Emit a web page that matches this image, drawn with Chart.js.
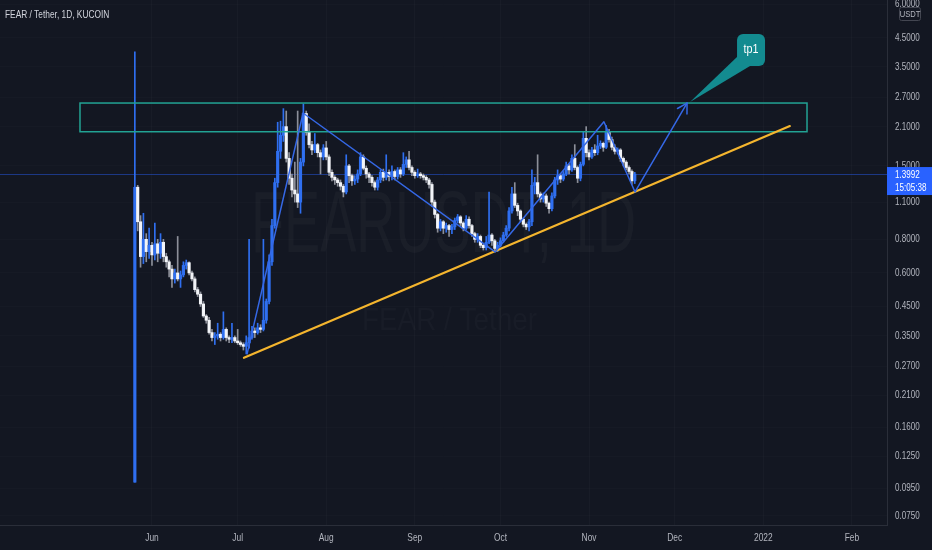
<!DOCTYPE html>
<html><head><meta charset="utf-8">
<script src="https://cdn.jsdelivr.net/npm/chart.js@4.4.1/dist/chart.umd.min.js"></script>
<style>
html,body{margin:0;padding:0;background:#131722;overflow:hidden;}
#wrap{position:relative;width:932px;height:550px;}
#title{position:absolute;left:5px;top:8px;color:#d1d4dc;font:11px 'Liberation Sans',Arial,sans-serif;white-space:nowrap;transform:scaleX(0.76);transform-origin:0 0;}
</style></head><body>
<div id="wrap"><canvas id="c"></canvas><div id="title">FEAR / Tether, 1D, KUCOIN</div></div>
<script>
// ---- data (daily candles, day 0 = 2021-06-01) ----
const START_DAY = -6;
const O = [0.100,1.25,0.93,0.69,0.80,0.72,0.76,0.70,0.77,0.71,
0.78,0.69,0.66,0.62,0.57,0.60,0.57,0.59,0.64,0.655,
0.60,0.57,0.52,0.50,0.46,0.415,0.40,0.36,0.345,0.35,
0.355,0.345,0.37,0.345,0.34,0.345,0.335,0.33,0.325,0.32,
0.33,0.345,0.365,0.36,0.375,0.37,0.40,0.47,0.66,0.90,
1.30,1.70,1.95,2.10,1.60,1.35,1.22,1.18,1.10,1.55,
2.35,2.00,1.80,1.72,1.80,1.68,1.62,1.75,1.62,1.42,
1.36,1.33,1.30,1.26,1.20,1.50,1.38,1.32,1.34,1.40,
1.62,1.47,1.40,1.36,1.30,1.25,1.33,1.42,1.36,1.42,
1.37,1.43,1.37,1.45,1.40,1.52,1.58,1.48,1.42,1.38,
1.40,1.38,1.36,1.33,1.28,1.10,0.99,0.88,0.93,0.88,
0.90,0.87,0.89,0.94,0.97,0.92,0.88,0.95,0.90,0.84,
0.80,0.82,0.76,0.745,0.78,0.83,0.79,0.74,0.76,0.79,
0.83,0.88,1.02,1.18,1.07,1.02,0.95,0.91,0.89,0.93,
1.27,1.30,1.18,1.13,1.16,1.09,1.04,1.16,1.33,1.38,
1.34,1.40,1.50,1.45,1.60,1.48,1.35,1.52,1.90,1.68,
1.62,1.72,1.68,1.78,1.82,1.76,2.00,1.88,1.76,1.70,
1.72,1.60,1.55,1.48,1.43,1.32];
const H = [3.98,1.27,0.98,1.00,0.84,0.88,0.78,0.92,0.80,0.84,
0.80,0.71,0.67,0.64,0.62,0.82,0.61,0.66,0.67,0.66,
0.61,0.58,0.53,0.51,0.47,0.42,0.41,0.37,0.36,0.39,
0.36,0.43,0.375,0.35,0.39,0.35,0.37,0.335,0.33,0.35,
0.80,0.38,0.375,0.39,0.385,0.80,0.48,0.70,0.95,1.35,
2.18,2.20,2.45,2.40,1.68,1.40,1.55,2.40,1.60,2.55,
2.40,2.15,1.85,1.98,1.82,1.72,1.80,1.85,1.65,1.45,
1.38,1.35,1.33,1.28,1.65,1.52,1.40,1.38,1.45,1.68,
1.65,1.50,1.42,1.38,1.32,1.36,1.45,1.46,1.65,1.45,
1.50,1.45,1.48,1.48,1.68,1.62,1.70,1.50,1.44,1.46,
1.42,1.40,1.38,1.35,1.30,1.12,1.00,0.95,0.94,0.92,
0.91,0.91,0.96,0.99,0.98,0.93,0.98,0.97,0.91,0.85,
0.84,0.83,0.77,0.82,1.20,0.84,0.80,0.78,0.81,0.85,
0.90,1.05,1.25,1.30,1.09,1.03,0.96,0.92,0.95,1.45,
1.36,1.65,1.20,1.19,1.18,1.10,1.19,1.36,1.45,1.40,
1.43,1.55,1.52,1.65,1.80,1.50,1.55,2.00,2.10,1.72,
1.76,1.80,1.95,1.86,1.84,2.12,2.05,1.92,1.80,1.75,
1.74,1.62,1.57,1.50,1.45,1.42];
const L = [0.100,0.86,0.63,0.65,0.66,0.68,0.64,0.67,0.66,0.68,
0.66,0.63,0.58,0.53,0.55,0.56,0.53,0.58,0.62,0.59,
0.56,0.51,0.49,0.45,0.41,0.39,0.355,0.335,0.325,0.34,
0.335,0.34,0.335,0.33,0.33,0.33,0.325,0.32,0.31,0.30,
0.315,0.34,0.345,0.355,0.36,0.365,0.39,0.46,0.64,0.88,
1.25,1.60,1.85,1.55,1.28,1.15,1.10,1.05,1.00,1.50,
1.95,1.75,1.65,1.68,1.62,1.40,1.58,1.58,1.38,1.32,
1.28,1.26,1.22,1.15,1.18,1.30,1.27,1.28,1.30,1.38,
1.45,1.35,1.30,1.26,1.22,1.22,1.30,1.32,1.33,1.32,
1.33,1.33,1.34,1.36,1.38,1.48,1.45,1.38,1.35,1.36,
1.35,1.33,1.30,1.24,1.06,0.96,0.85,0.86,0.84,0.85,
0.82,0.84,0.87,0.92,0.90,0.86,0.87,0.88,0.82,0.78,
0.78,0.745,0.73,0.73,0.77,0.76,0.72,0.72,0.75,0.78,
0.82,0.86,1.00,1.05,0.98,0.93,0.89,0.87,0.86,0.90,
1.18,1.15,1.10,1.10,1.06,1.00,1.02,1.14,1.28,1.30,
1.32,1.38,1.40,1.43,1.45,1.30,1.32,1.50,1.62,1.58,
1.60,1.64,1.65,1.74,1.70,1.74,1.84,1.72,1.66,1.66,
1.56,1.50,1.45,1.40,1.28,1.29];
const C = [1.25,0.93,0.69,0.80,0.72,0.76,0.70,0.77,0.71,0.78,
0.69,0.66,0.62,0.57,0.60,0.57,0.59,0.64,0.655,0.60,
0.57,0.52,0.50,0.46,0.415,0.40,0.36,0.345,0.35,0.355,
0.345,0.37,0.345,0.34,0.345,0.335,0.33,0.325,0.32,0.33,
0.345,0.365,0.36,0.375,0.37,0.40,0.47,0.66,0.90,1.30,
1.70,1.95,2.10,1.60,1.35,1.22,1.18,1.10,1.55,2.35,
2.00,1.80,1.72,1.80,1.68,1.62,1.75,1.62,1.42,1.36,
1.33,1.30,1.26,1.20,1.50,1.38,1.32,1.34,1.40,1.62,
1.47,1.40,1.36,1.30,1.25,1.33,1.42,1.36,1.42,1.37,
1.43,1.37,1.45,1.40,1.52,1.58,1.48,1.42,1.38,1.40,
1.38,1.36,1.33,1.28,1.10,0.99,0.88,0.93,0.88,0.90,
0.87,0.89,0.94,0.97,0.92,0.88,0.95,0.90,0.84,0.80,
0.82,0.76,0.745,0.78,0.83,0.79,0.74,0.76,0.79,0.83,
0.88,1.02,1.18,1.07,1.02,0.95,0.91,0.89,0.93,1.27,
1.30,1.18,1.13,1.16,1.09,1.04,1.16,1.33,1.38,1.34,
1.40,1.50,1.45,1.60,1.48,1.35,1.52,1.90,1.68,1.62,
1.72,1.68,1.78,1.82,1.76,2.00,1.88,1.76,1.70,1.72,
1.60,1.55,1.48,1.43,1.32,1.3992];

const TICK_DAYS = [0,30,61,92,122,153,183,214,245];
const TICK_LABELS = ['Jun','Jul','Aug','Sep','Oct','Nov','Dec','2022','Feb'];
const PRICE_TICKS = [0.075,0.095,0.125,0.16,0.21,0.27,0.35,0.45,0.6,0.8,1.1,1.5,2.1,2.7,3.5,4.5,6];
const X_MIN = -53.2, X_MAX = 257.3, Y_MIN = 0.0693, Y_MAX = 6.21;

// drawings (day, price)
const ZONE_DAYS = [-25.2, 229.3], ZONE_PRICES = [2.57, 2.01];
const TREND_DAYS = [32.2, 223.3], TREND_PRICES = [0.290, 2.11];
const PATH_DAYS = [33.3, 52.9, 120.1, 158.2, 169.1, 187.3];
const PATH_PRICES = [0.300, 2.36, 0.718, 2.19, 1.20, 2.57];
const LAST_PRICE = 1.3992, COUNTDOWN = '15:05:38', CURRENCY = 'USDT', CALLOUT = 'tp1';
const WM1 = 'FEARUSDT, 1D', WM2 = 'FEAR / Tether';

const FONT = "'Liberation Sans',Arial,sans-serif";
const SX = 0.8; // horizontal text condensation
const BLUE = '#2f6ff0', WHITE = '#f2f4f8', WICK_DN = '#8c8f99';
const up = O.map((o,i)=>C[i] >= o);

function sText(ctx, txt, x, y, align, sx){
  ctx.save(); ctx.translate(x,y); ctx.scale(sx,1); ctx.textAlign=align; ctx.fillText(txt,0,0); ctx.restore();
}

const drawings = {
  id:'drawings',
  beforeDatasetsDraw(chart){
    const {ctx, chartArea:a, scales:{x,y}} = chart;
    ctx.save();
    ctx.beginPath(); ctx.rect(a.left,a.top,a.width,a.height); ctx.clip();
    ctx.textBaseline='alphabetic';
    const cx=(a.left+a.right)/2;
    ctx.fillStyle='rgba(255,255,255,0.03)';
    ctx.font=`88px ${FONT}`;
    let w=ctx.measureText(WM1).width;
    sText(ctx, WM1, cx, 252, 'center', 385/w);
    ctx.fillStyle='rgba(255,255,255,0.022)';
    ctx.font=`32px ${FONT}`;
    w=ctx.measureText(WM2).width;
    sText(ctx, WM2, cx+6, 330, 'center', 175/w);
    const py=Math.round(y.getPixelForValue(LAST_PRICE))+0.5;
    ctx.strokeStyle='rgba(41,98,255,0.45)'; ctx.lineWidth=1;
    ctx.beginPath(); ctx.moveTo(a.left,py); ctx.lineTo(a.right,py); ctx.stroke();
    ctx.restore();
  },
  afterDatasetsDraw(chart){
    const {ctx, chartArea:a, scales:{x,y}} = chart;
    ctx.save();
    ctx.beginPath(); ctx.rect(a.left,a.top,a.width,a.height); ctx.clip();
    const zx0=x.getPixelForValue(ZONE_DAYS[0]), zx1=x.getPixelForValue(ZONE_DAYS[1]);
    const zy0=y.getPixelForValue(ZONE_PRICES[0]), zy1=y.getPixelForValue(ZONE_PRICES[1]);
    ctx.strokeStyle='#22a394'; ctx.lineWidth=1.5;
    ctx.strokeRect(zx0,zy0,zx1-zx0,zy1-zy0);
    ctx.strokeStyle='#f4b52e'; ctx.lineWidth=2.2; ctx.lineCap='round';
    ctx.beginPath();
    ctx.moveTo(x.getPixelForValue(TREND_DAYS[0]), y.getPixelForValue(TREND_PRICES[0]));
    ctx.lineTo(x.getPixelForValue(TREND_DAYS[1]), y.getPixelForValue(TREND_PRICES[1]));
    ctx.stroke();
    const pts=PATH_DAYS.map((d,i)=>[x.getPixelForValue(d), y.getPixelForValue(PATH_PRICES[i])]);
    ctx.strokeStyle='#3568e6'; ctx.lineWidth=1.5; ctx.lineJoin='round';
    ctx.beginPath(); pts.forEach((p,i)=>i?ctx.lineTo(p[0],p[1]):ctx.moveTo(p[0],p[1])); ctx.stroke();
    const [tx,ty]=pts[pts.length-1], [sx,sy]=pts[pts.length-2];
    const ang=Math.atan2(ty-sy,tx-sx);
    ctx.beginPath();
    for(const s of [-1,1]){
      const aa=ang+Math.PI+s*Math.PI/6;
      ctx.moveTo(tx,ty); ctx.lineTo(tx+11*Math.cos(aa), ty+11*Math.sin(aa));
    }
    ctx.stroke();
    const rx=tx+50, ry=ty-69, rw=28, rh=32;
    ctx.fillStyle='#138b90';
    ctx.beginPath(); ctx.moveTo(rx+1,ry+22); ctx.lineTo(rx+13,ry+rh); ctx.lineTo(tx+3,ty-1); ctx.closePath(); ctx.fill();
    ctx.beginPath(); ctx.roundRect(rx,ry,rw,rh,6); ctx.fill();
    ctx.fillStyle='#ffffff'; ctx.font=`12px ${FONT}`; ctx.textBaseline='middle';
    sText(ctx, CALLOUT, rx+rw/2, ry+rh/2, 'center', 0.9);
    ctx.restore();
  },
  afterDraw(chart){
    const {ctx, chartArea:a, scales:{x,y}} = chart;
    ctx.save();
    ctx.font=`10.5px ${FONT}`; ctx.textBaseline='middle'; ctx.fillStyle='#b2b5be';
    for(const t of y.ticks){
      sText(ctx, Number(t.value).toFixed(4), a.right+8, y.getPixelForValue(t.value), 'left', 0.77);
    }
    for(const t of x.ticks){
      const i=TICK_DAYS.indexOf(t.value);
      sText(ctx, TICK_LABELS[i], x.getPixelForValue(t.value), 538, 'center', SX);
    }
    const py=y.getPixelForValue(LAST_PRICE);
    ctx.fillStyle='#2962ff';
    ctx.fillRect(a.right, py-7, 45, 28);
    ctx.fillStyle='#ffffff';
    sText(ctx, LAST_PRICE.toFixed(4), a.right+8, py+1, 'left', 0.77);
    sText(ctx, COUNTDOWN, a.right+8, py+14, 'left', 0.77);
    ctx.fillStyle='#131722'; ctx.strokeStyle='#434651'; ctx.lineWidth=1;
    ctx.beginPath(); ctx.roundRect(a.right+12.5, 7.5, 21, 13, 2); ctx.fill(); ctx.stroke();
    ctx.fillStyle='#b2b5be'; ctx.font=`9.5px ${FONT}`;
    sText(ctx, CURRENCY, a.right+23, 14.5, 'center', SX);
    ctx.restore();
  }
};

new Chart(document.getElementById('c'), {
  type:'bar',
  data:{datasets:[
    {label:'wick', data:O.map((o,i)=>({x:START_DAY+i, y:[L[i],H[i]]})),
     backgroundColor:up.map(u=>u?BLUE:WICK_DN), barThickness:1, grouped:false, order:2},
    {label:'body', data:O.map((o,i)=>({x:START_DAY+i, y:[Math.min(o,C[i]),Math.max(o,C[i])]})),
     backgroundColor:up.map(u=>u?BLUE:WHITE), barThickness:2.5, grouped:false, minBarLength:1.5, order:1}
  ]},
  options:{
    responsive:true, maintainAspectRatio:false, animation:false,
    layout:{padding:0},
    plugins:{legend:{display:false}, tooltip:{enabled:false}},
    scales:{
      x:{type:'linear', min:X_MIN, max:X_MAX, offset:false,
        grid:{color:'rgba(255,255,255,0.025)', drawTicks:false, offset:false},
        border:{color:'#2a2e39'},
        afterBuildTicks:(s)=>{s.ticks=TICK_DAYS.map(v=>({value:v}));},
        afterFit:(s)=>{s.height=25; s.paddingLeft=0; s.paddingRight=0;},
        ticks:{display:false, autoSkip:false}
      },
      y:{type:'logarithmic', position:'right', min:Y_MIN, max:Y_MAX,
        grid:{color:'rgba(255,255,255,0.015)', drawTicks:false},
        border:{color:'#2a2e39'},
        afterBuildTicks:(s)=>{s.ticks=PRICE_TICKS.map(v=>({value:v}));},
        afterFit:(s)=>{s.width=45; s.paddingTop=0; s.paddingBottom=0;},
        ticks:{display:false}
      }
    }
  },
  plugins:[drawings]
});
</script>
</body></html>
